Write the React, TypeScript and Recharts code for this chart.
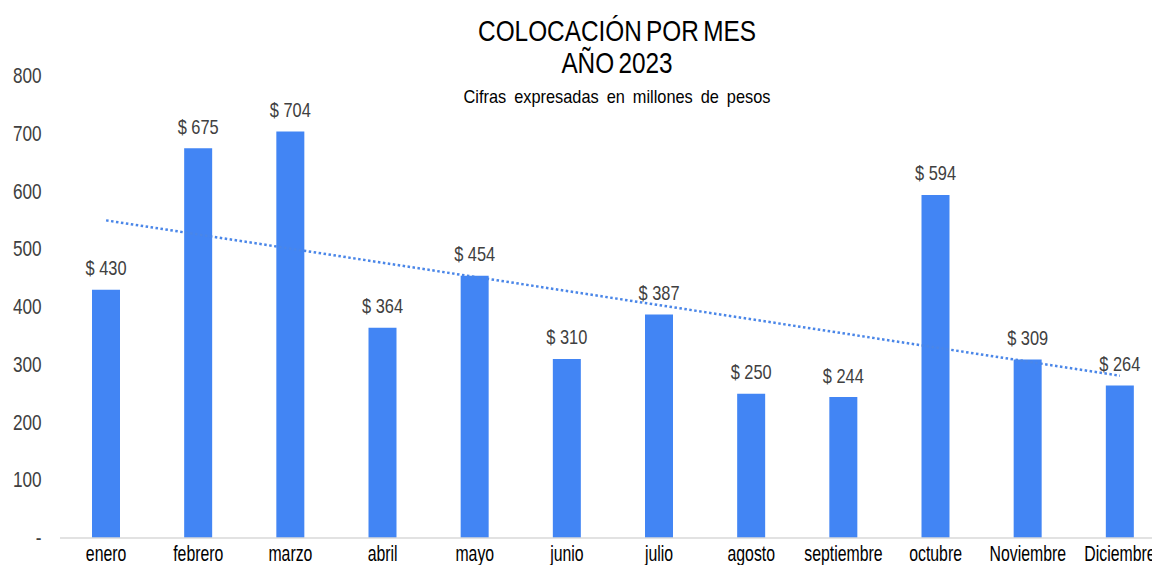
import { ComposedChart, Bar, Line, XAxis, YAxis, LabelList } from 'recharts';

const months = ['enero', 'febrero', 'marzo', 'abril', 'mayo', 'junio', 'julio', 'agosto', 'septiembre', 'octubre', 'Noviembre', 'Diciembre'];
const colocacion = [430, 675, 704, 364, 454, 310, 387, 250, 244, 594, 309, 264];
// trendline read at its two ends, other months left empty
const tendencia = [550, null, null, null, null, null, null, null, null, null, null, 281];
const yTicks = [0, 100, 200, 300, 400, 500, 600, 700, 800];

const FONT = '"Liberation Sans", Arial, sans-serif';
const BAR_COLOR = '#4285f4';
const TEXT_COLOR = '#404040';

const data = months.map((m, i) => ({ name: m, value: colocacion[i], trend: tendencia[i] }));

// the source uses a narrow font, so squeeze the text horizontally
const XTick = ({ x, y, payload }: any) => (
  <g transform={`translate(${x},${y})`}>
    <text transform="scale(0.72,1)" y={17} textAnchor="middle" fontSize={22} fill="#000" fontFamily={FONT}>
      {payload.value}
    </text>
  </g>
);

const YTick = ({ x, y, payload }: any) => (
  <g transform={`translate(${x - 12.5},${y})`}>
    <text transform="scale(0.78,1)" y={7} textAnchor="end" fontSize={22} fill={TEXT_COLOR} fontFamily={FONT}>
      {payload.value === 0 ? '-' : payload.value}
    </text>
  </g>
);

const ValueLabel = ({ x, y, width, value }: any) => (
  <g transform={`translate(${x + width / 2},${y - 14.5})`}>
    <text transform="scale(0.82,1)" textAnchor="middle" fontSize={20} fill={TEXT_COLOR} fontFamily={FONT}>
      {`$ ${value}`}
    </text>
  </g>
);

export default function App() {
  return (
    <div style={{ position: 'relative', width: 1160, height: 573, margin: -8, overflow: 'hidden', background: '#fff', fontFamily: FONT }}>
      <div style={{ position: 'absolute', top: 14.7, left: 0, width: 1234, textAlign: 'center', fontSize: 29, color: '#000', lineHeight: '32px', transform: 'scaleX(0.84)', wordSpacing: -3 }}>
        <div>COLOCACIÓN POR MES</div>
        <div>AÑO 2023</div>
      </div>
      <div style={{ position: 'absolute', top: 86.4, left: 0, width: 1234, textAlign: 'center', fontSize: 19, lineHeight: '22px', color: '#000', wordSpacing: 4, transform: 'scaleX(0.86)' }}>
        Cifras expresadas en millones de pesos
      </div>
      <ComposedChart width={1170} height={573} data={data} margin={{ top: 76, right: 4, bottom: 5, left: 0 }}>
        <XAxis
          dataKey="name"
          height={30}
          tickLine={false}
          axisLine={{ stroke: '#d9d9d9', strokeWidth: 1.5 }}
          tick={<XTick />}
          tickMargin={0}
          interval={0}
        />
        <YAxis
          width={60}
          domain={[0, 800]}
          ticks={yTicks}
          axisLine={false}
          tickLine={false}
          tickMargin={0}
          tick={<YTick />}
        />
        <Bar dataKey="value" fill={BAR_COLOR} barSize={28} isAnimationActive={false}>
          <LabelList dataKey="value" content={<ValueLabel />} />
        </Bar>
        <Line
          dataKey="trend"
          stroke="#4a86e8"
          strokeWidth={2.5}
          strokeDasharray="2.5 2.5"
          dot={false}
          activeDot={false}
          connectNulls
          isAnimationActive={false}
        />
      </ComposedChart>
    </div>
  );
}
